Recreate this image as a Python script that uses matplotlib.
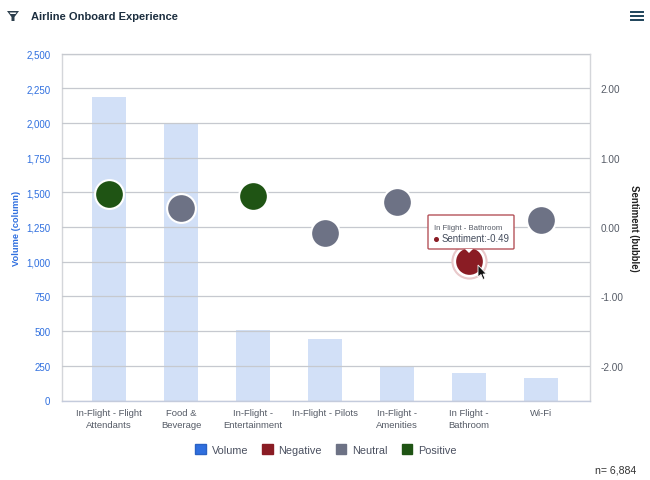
import matplotlib
matplotlib.use("Agg")
import matplotlib.pyplot as plt
import numpy as np
from matplotlib.lines import Line2D
from matplotlib.patches import FancyBboxPatch, Patch, Polygon

plt.rcParams["font.family"] = ["Liberation Sans", "DejaVu Sans"]

categories = [
    "In-Flight - Flight\nAttendants", "Food &\nBeverage", "In-Flight -\nEntertainment",
    "In-Flight - Pilots", "In-Flight -\nAmenities", "In Flight -\nBathroom", "Wi-Fi",
]
volume = [2190, 2000, 510, 440, 250, 200, 165]
sentiment = [0.48, 0.28, 0.45, -0.08, 0.36, -0.49, 0.10]
sentiment_group = ["Positive", "Neutral", "Positive", "Neutral", "Neutral", "Negative", "Neutral"]
volume_ticks = list(range(0, 2501, 250))
sentiment_ticks = [-2.0, -1.0, 0.0, 1.0, 2.0]

W, H = 650, 481
BLUE = "#2f6fdf"
GROUP_COLORS = {"Negative": "#8a1c24", "Neutral": "#6d7285", "Positive": "#1f5414"}
TICK_GREY = "#555b66"
TITLE_DARK = "#1c2e3f"


def px_rect(left, top, right, bottom):
    return [left / W, 1 - bottom / H, (right - left) / W, (bottom - top) / H]


fig = plt.figure(figsize=(W / 100, H / 100), dpi=100, facecolor="white")
ax = fig.add_axes(px_rect(62, 54.5, 590, 401.5))
x = np.arange(len(categories))

ax.bar(x, volume, width=0.47, color="#d2e0f7", zorder=1)
ax.set_xlim(-0.653, 6.68)
ax.set_ylim(0, 2500)
ax.set_yticks(volume_ticks)
ax.set_yticklabels([f"{v:,}" for v in volume_ticks], color=BLUE, fontsize=7.0)
ax.set_xticks(x)
ax.set_xticklabels(categories, color=TICK_GREY, fontsize=6.8, linespacing=1.45)
ax.tick_params(axis="both", length=0)
ax.tick_params(axis="x", pad=5.6)
ax.tick_params(axis="y", pad=8.5)
ax.grid(axis="y", color="#c6c9cf", linewidth=0.9, zorder=2)
ax.set_axisbelow(False)
for spine in ax.spines.values():
    spine.set_color("#d4d6da")
    spine.set_linewidth(1.0)
ax.spines["bottom"].set_color("#c4cbdc")
ax.set_ylabel("Volume (column)", color=BLUE, fontsize=6.7, fontweight="bold", va="center")
ax.yaxis.set_label_coords((16.5 - 62) / 528, 0.5)

ax2 = ax.twinx()
ax2.set_ylim(-2.5, 2.5)
ax2.set_yticks(sentiment_ticks)
ax2.set_yticklabels([f"{v:.2f}" for v in sentiment_ticks], color=TICK_GREY, fontsize=7.2)
ax2.tick_params(axis="y", length=0, pad=7.4)
for spine in ax2.spines.values():
    spine.set_visible(False)
ax2.set_ylabel("Sentiment (bubble)", color="#222222", fontsize=6.9, fontweight="bold",
               rotation=270, va="center")
ax2.yaxis.set_label_coords((634 - 62) / 528, 0.5)

# hover state on the bathroom bubble
hover = sentiment_group.index("Negative")
ax2.scatter(x[hover], sentiment[hover], s=680, color="#e9c9cb", zorder=3, linewidths=0)
ax2.scatter(x[hover], sentiment[hover], s=530, color="white", zorder=3, linewidths=0)
for group, color in GROUP_COLORS.items():
    idx = [i for i, g in enumerate(sentiment_group) if g == group]
    ax2.scatter(x[idx], [sentiment[i] for i in idx], s=430, color=color,
                edgecolors="white", linewidths=1.5, zorder=4)

# header
fig.text(31 / W, 1 - 17 / H, "Airline Onboard Experience", fontsize=8.05, fontweight="bold",
         color=TITLE_DARK, va="center")
fig.add_artist(Polygon(
    [(7 / W, 1 - 12 / H), (19 / W, 1 - 12 / H), (14.5 / W, 1 - 18 / H), (14.5 / W, 1 - 22 / H),
     (11.5 / W, 1 - 22 / H), (11.5 / W, 1 - 18 / H)],
    closed=True, transform=fig.transFigure, facecolor="#2c3e4c", edgecolor="none"))
fig.add_artist(Polygon(
    [(9.5 / W, 1 - 13.5 / H), (16.5 / W, 1 - 13.5 / H), (15.5 / W, 1 - 15 / H), (10.5 / W, 1 - 15 / H)],
    closed=True, transform=fig.transFigure, facecolor="white", edgecolor="none"))
for ypx in (12.5, 16.5, 20.5):
    fig.add_artist(Line2D([631 / W, 643 / W], [1 - ypx / H] * 2, color="#1d4259", linewidth=1.4))

# legend
handles = [Patch(facecolor=BLUE, edgecolor="#2a62c4", label="Volume")]
handles += [Patch(facecolor=c, edgecolor=c, label=g) for g, c in GROUP_COLORS.items()]
fig.legend(handles=handles, loc="center", bbox_to_anchor=(326 / W, 1 - 450.5 / H), ncols=4,
           frameon=False, fontsize=7.8, handlelength=0.95, handleheight=1.1, handletextpad=0.55,
           columnspacing=1.3, labelcolor="#4a5060")

fig.text(636 / W, 1 - 471 / H, "n= 6,884", fontsize=7.6, color="#333333", ha="right", va="center")

# tooltip
fig.add_artist(FancyBboxPatch(
    (428 / W, 1 - 250 / H), 86 / W, 34 / H, boxstyle="round,pad=0,rounding_size=0.002",
    transform=fig.transFigure, facecolor="white", edgecolor="#b5545a", linewidth=1.0))
fig.add_artist(Polygon(
    [(465 / W, 1 - 250 / H), (473 / W, 1 - 250 / H), (469 / W, 1 - 254 / H)],
    closed=True, transform=fig.transFigure, facecolor="white", edgecolor="none"))
fig.text(433.5 / W, 1 - 228.5 / H, "In Flight - Bathroom", fontsize=5.6, color="#555b66", va="center")
fig.add_artist(Line2D([436 / W], [1 - 239.5 / H], marker="o", markersize=2.6,
                      color=GROUP_COLORS["Negative"], linestyle="none"))
fig.text(441.5 / W, 1 - 239.5 / H, f"Sentiment:{sentiment[hover]:.2f}", fontsize=6.9,
         color="#444c5c", va="center")

# mouse cursor
cursor = [(478, 266), (478, 278), (481, 275.5), (483, 280.5), (485, 279.5), (483, 275), (486.5, 275)]
fig.add_artist(Polygon([(a / W, 1 - b / H) for a, b in cursor], closed=True,
                       transform=fig.transFigure, facecolor="#111111",
                       edgecolor="white", linewidth=0.6))

fig.savefig("out.png", dpi=100)
plt.close(fig)
